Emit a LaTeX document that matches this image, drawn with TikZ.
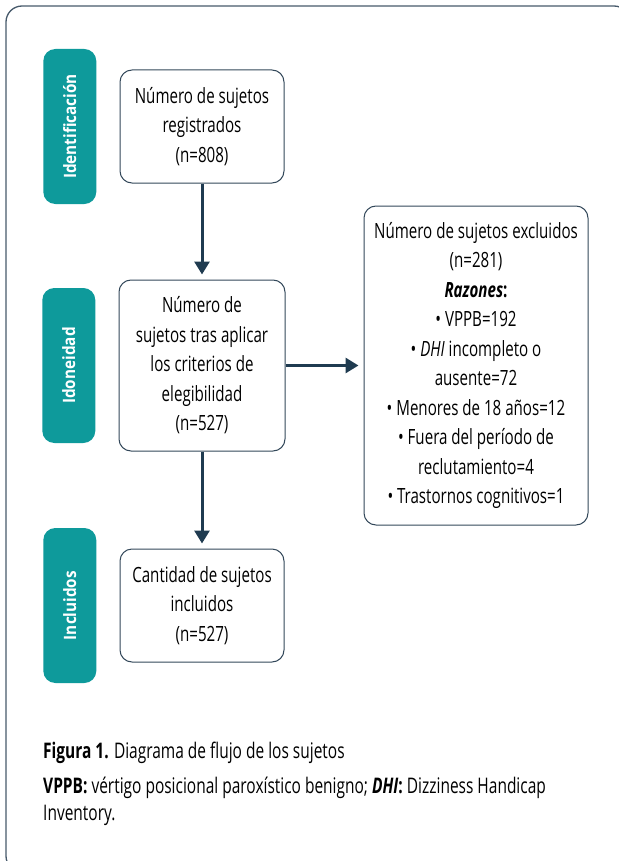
\documentclass[tikz,border=0pt]{standalone}
\usepackage{fontspec}
\setmainfont{Open Sans}[FakeStretch=0.72]
\newfontfamily\stagefont{Open Sans}[FakeStretch=0.9]
\usetikzlibrary{arrows.meta,positioning}
\definecolor{fdteal}{HTML}{0E9A9B}
\definecolor{fdnavy}{HTML}{1F3B50}
\definecolor{fdborder}{HTML}{33485A}
\definecolor{fdframe}{HTML}{46596A}

\begin{document}
\begin{tikzpicture}[x=1pt,y=-1pt,
  box/.style={draw=fdborder,line width=1pt,rounded corners=12pt,fill=white,minimum width=164pt,minimum height=113pt,align=center,inner sep=0pt,font=\fontsize{21}{29.5}\selectfont},
  stage/.style={fill=fdteal,rounded corners=12pt,minimum width=155pt,minimum height=53pt,rotate=90,anchor=south,text=white,font=\stagefont\bfseries\fontsize{17}{20}\selectfont},
  arrow/.style={-{Triangle[length=13pt,width=15pt]},line width=3pt,color=fdnavy,shorten >=5pt},
  caption/.style={anchor=west,align=left,inner sep=0pt,font=\fontsize{21.5}{27}\selectfont}
]
  \useasboundingbox (0,0) rectangle (618,861);
  \draw[fdframe,line width=1.3pt,rounded corners=16pt] (6,6) rectangle (630,872);
  % flow boxes
  \node[box] (regist) at (202,126.5) {Número de sujetos\\registrados\\(n=808)};
  \node[box,below=96pt of regist,minimum width=166pt,minimum height=171pt] (elig) {Número de\\sujetos tras aplicar\\los criterios de\\elegibilidad\\(n=527)};
  \node[box,right=78pt of elig,minimum width=224pt,minimum height=319pt] (excl) {Número de sujetos excluidos\\(n=281)\\\textbf{\textit{Razones}:}\\\textbullet{} VPPB=192\\\textbullet{} \textit{DHI} incompleto o\\ausente=72\\\textbullet{} Menores de 18 años=12\\\textbullet{} Fuera del período de\\reclutamiento=4\\\textbullet{} Trastornos cognitivos=1};
  \node[box,below=97pt of elig] (incl) {Cantidad de sujetos\\incluidos\\(n=527)};
  % stage labels
  \node[stage] (identlab) at ([xshift=-23pt]regist.west) {Identificación};
  \node[stage] (idonlab) at ([xshift=-23pt]elig.west) {Idoneidad};
  \node[stage] (incllab) at ([xshift=-23pt]incl.west) {Incluidos};
  \draw[arrow] (regist) -- (elig);
  \draw[arrow] (elig) -- (excl);
  \draw[arrow] (elig) -- (incl);
  % caption
  \node[caption] (figcap) at (43,753) {\textbf{Figura 1.} Diagrama de flujo de los sujetos};
  \node[caption] (abbrev) at (43,801.5) {\textbf{VPPB:} vértigo posicional paroxístico benigno; \textbf{\textit{DHI}:} Dizziness Handicap\\Inventory.};
\end{tikzpicture}
\end{document}
